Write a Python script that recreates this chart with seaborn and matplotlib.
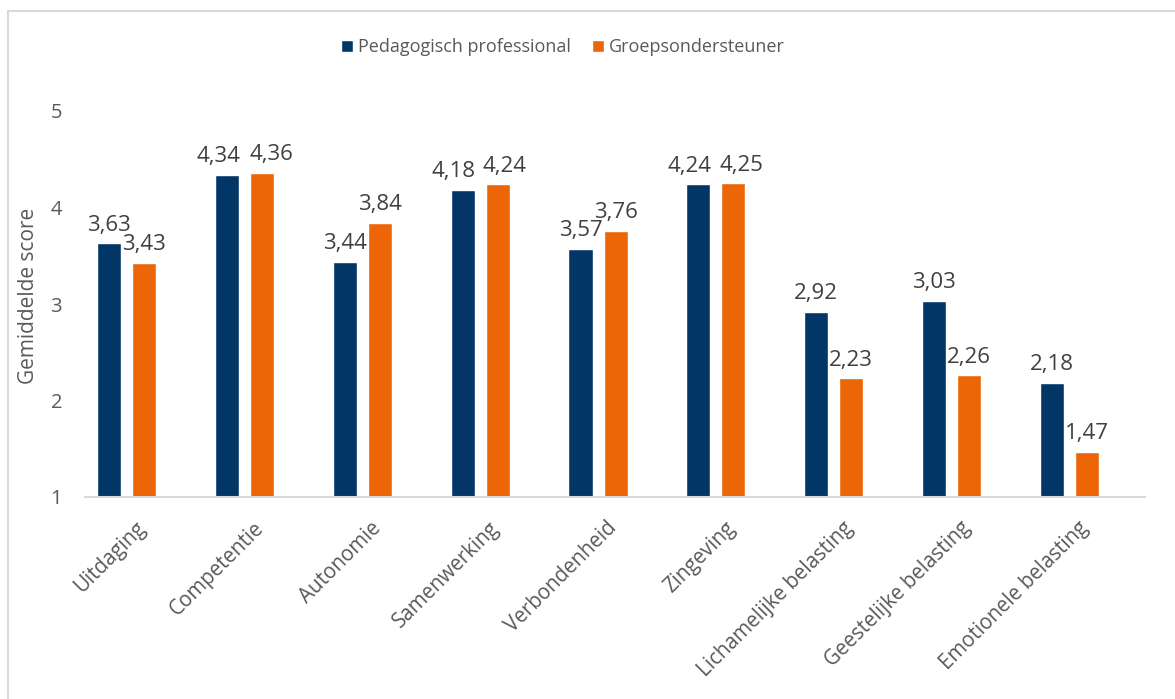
import matplotlib
matplotlib.use('Agg')
import matplotlib.pyplot as plt
import matplotlib.transforms as mtransforms
from matplotlib.patches import Rectangle, Patch
import seaborn as sns
import pandas as pd

categories = ['Uitdaging', 'Competentie', 'Autonomie', 'Samenwerking', 'Verbondenheid',
              'Zingeving', 'Lichamelijke belasting', 'Geestelijke belasting', 'Emotionele belasting']
series_names = ['Pedagogisch professional', 'Groepsondersteuner']
pedagogisch = [3.63, 4.34, 3.44, 4.18, 3.57, 4.24, 2.92, 3.03, 2.18]
groeps = [3.43, 4.36, 3.84, 4.24, 3.76, 4.25, 2.23, 2.26, 1.47]
y_ticks = [1, 2, 3, 4, 5]
y_label = 'Gemiddelde score'

navy = '#023667'
orange = '#EC6608'
txt_gray = '#595959'
lbl_gray = '#404040'

sns.set_theme(style='white')
plt.rcParams['font.family'] = ['Open Sans', 'DejaVu Sans']

df = pd.DataFrame({
    'categorie': categories * 2,
    'score': pedagogisch + groeps,
    'groep': [series_names[0]] * len(categories) + [series_names[1]] * len(categories),
})

W, H = 1175, 699
fig = plt.figure(figsize=(W / 100, H / 100), dpi=100)
ax = fig.add_axes([85 / W, 1 - 497 / H, 1060 / W, (497 - 111) / H])

sns.barplot(data=df, x='categorie', y='score', hue='groep', hue_order=series_names,
            palette=[navy, orange], width=0.594, gap=0.313, errorbar=None,
            saturation=1, legend=False, ax=ax)

ax.set_ylim(1, 5)
ax.set_xlim(-0.352, 8.64)
ax.set_yticks(y_ticks)
ax.set_yticklabels([str(t) for t in y_ticks], fontsize=14.5, color=txt_gray)
ax.tick_params(axis='y', length=0, pad=16.5)
ax.tick_params(axis='x', length=0, pad=20)
ax.set_xlabel('')
ax.set_ylabel(y_label, fontsize=15, color=txt_gray)
ax.yaxis.set_label_coords(-0.0434, 0.52)

for s in ['top', 'right', 'left']:
    ax.spines[s].set_visible(False)
ax.spines['bottom'].set_color('#D9D9D9')
ax.spines['bottom'].set_linewidth(1.5)

offset = mtransforms.ScaledTranslation(16 / 100, 0, fig.dpi_scale_trans)
for lab in ax.get_xticklabels():
    lab.set_rotation(45)
    lab.set_ha('right')
    lab.set_va('center')
    lab.set_rotation_mode('anchor')
    lab.set_fontsize(14.8)
    lab.set_color(txt_gray)
    lab.set_transform(lab.get_transform() + offset)

# horizontal nudges (points) for labels of close pairs, as in the reference
nudge = {0: {1: -6.0, 3: -6.5, 5: -6.5}, 1: {1: 7.0, 3: 5.0, 5: 6.0}}
for si, cont in enumerate(ax.containers):
    anns = ax.bar_label(cont, labels=[f'{v:.2f}'.replace('.', ',') for v in cont.datavalues],
                        padding=5.5, fontsize=16, color=lbl_gray)
    for ci, ann in enumerate(anns):
        dx = nudge.get(si, {}).get(ci, 0.0)
        if dx:
            x0, y0 = ann.xyann
            ann.xyann = (x0 + dx, y0)

handles = [Patch(facecolor=navy), Patch(facecolor=orange)]
fig.legend(handles, series_names, loc='center', bbox_to_anchor=(563 / W, 1 - 47 / H),
           ncol=2, frameon=False, handlelength=0.67, handleheight=0.67,
           handletextpad=0.25, columnspacing=1.2, prop={'size': 13},
           labelcolor=txt_gray)

fig.patches.append(Rectangle((8 / W, -0.01), 1.2, 1 - 11 / H + 0.01, transform=fig.transFigure,
                             fill=False, edgecolor='#D9D9D9', linewidth=1.5))

fig.savefig('out.png', dpi=100)
